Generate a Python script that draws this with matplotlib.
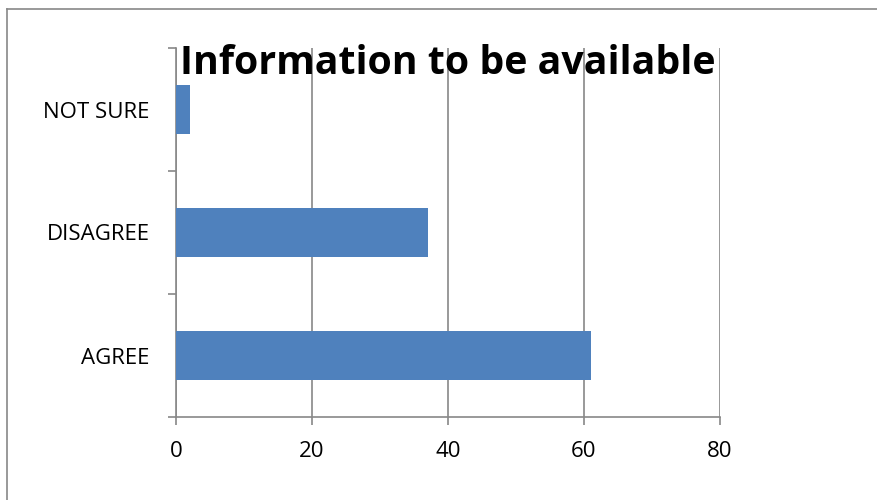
import matplotlib
matplotlib.use("Agg")
from matplotlib import pyplot as plt
from matplotlib.lines import Line2D

categories = ["AGREE", "DISAGREE", "NOT SURE"]
values = [61, 37, 2]
x_ticks = [0, 20, 40, 60, 80]

plt.rcParams["font.family"] = ["Open Sans", "DejaVu Sans"]

fig = plt.figure(figsize=(8.78, 5), dpi=100)
ax = fig.add_axes([176 / 878, 1 - 417 / 500, (720 - 176) / 878, (417 - 48) / 500])

pos = list(range(len(categories)))
ax.barh(pos, values, height=0.4, color="#4F81BD", zorder=3)

ax.set_xlim(0, 80)
ax.set_ylim(-0.5, len(categories) - 0.5)
ax.set_xticks(x_ticks)
ax.set_xticklabels([str(t) for t in x_ticks], fontsize=16)
ax.set_yticks(pos)
ax.set_yticklabels(categories, fontsize=16)
ax.set_yticks([p - 0.5 for p in pos] + [len(categories) - 0.5], minor=True)

gray = "#888888"
ax.tick_params(axis="y", which="major", length=0, pad=19)
ax.tick_params(axis="y", which="minor", length=6, width=1.2, color=gray)
ax.tick_params(axis="x", length=6, width=1.2, color=gray, pad=11)

ax.grid(axis="x", color=gray, linewidth=1.2, zorder=0)
for side in ["top", "right"]:
    ax.spines[side].set_visible(False)
for side in ["left", "bottom"]:
    ax.spines[side].set_color(gray)
    ax.spines[side].set_linewidth(1.2)

ax.text(0.5, 0.93, "Information to be available", transform=ax.transAxes,
        ha="center", va="baseline", fontsize=28.3, fontweight="bold", zorder=5)

# outer frame (left and top edges only are visible)
fig.add_artist(Line2D([7 / 878, 7 / 878], [0, 1 - 9 / 500], color=gray, linewidth=1.2))
fig.add_artist(Line2D([7 / 878, 1], [1 - 9 / 500, 1 - 9 / 500], color=gray, linewidth=1.2))

fig.savefig("out.png", dpi=100)
